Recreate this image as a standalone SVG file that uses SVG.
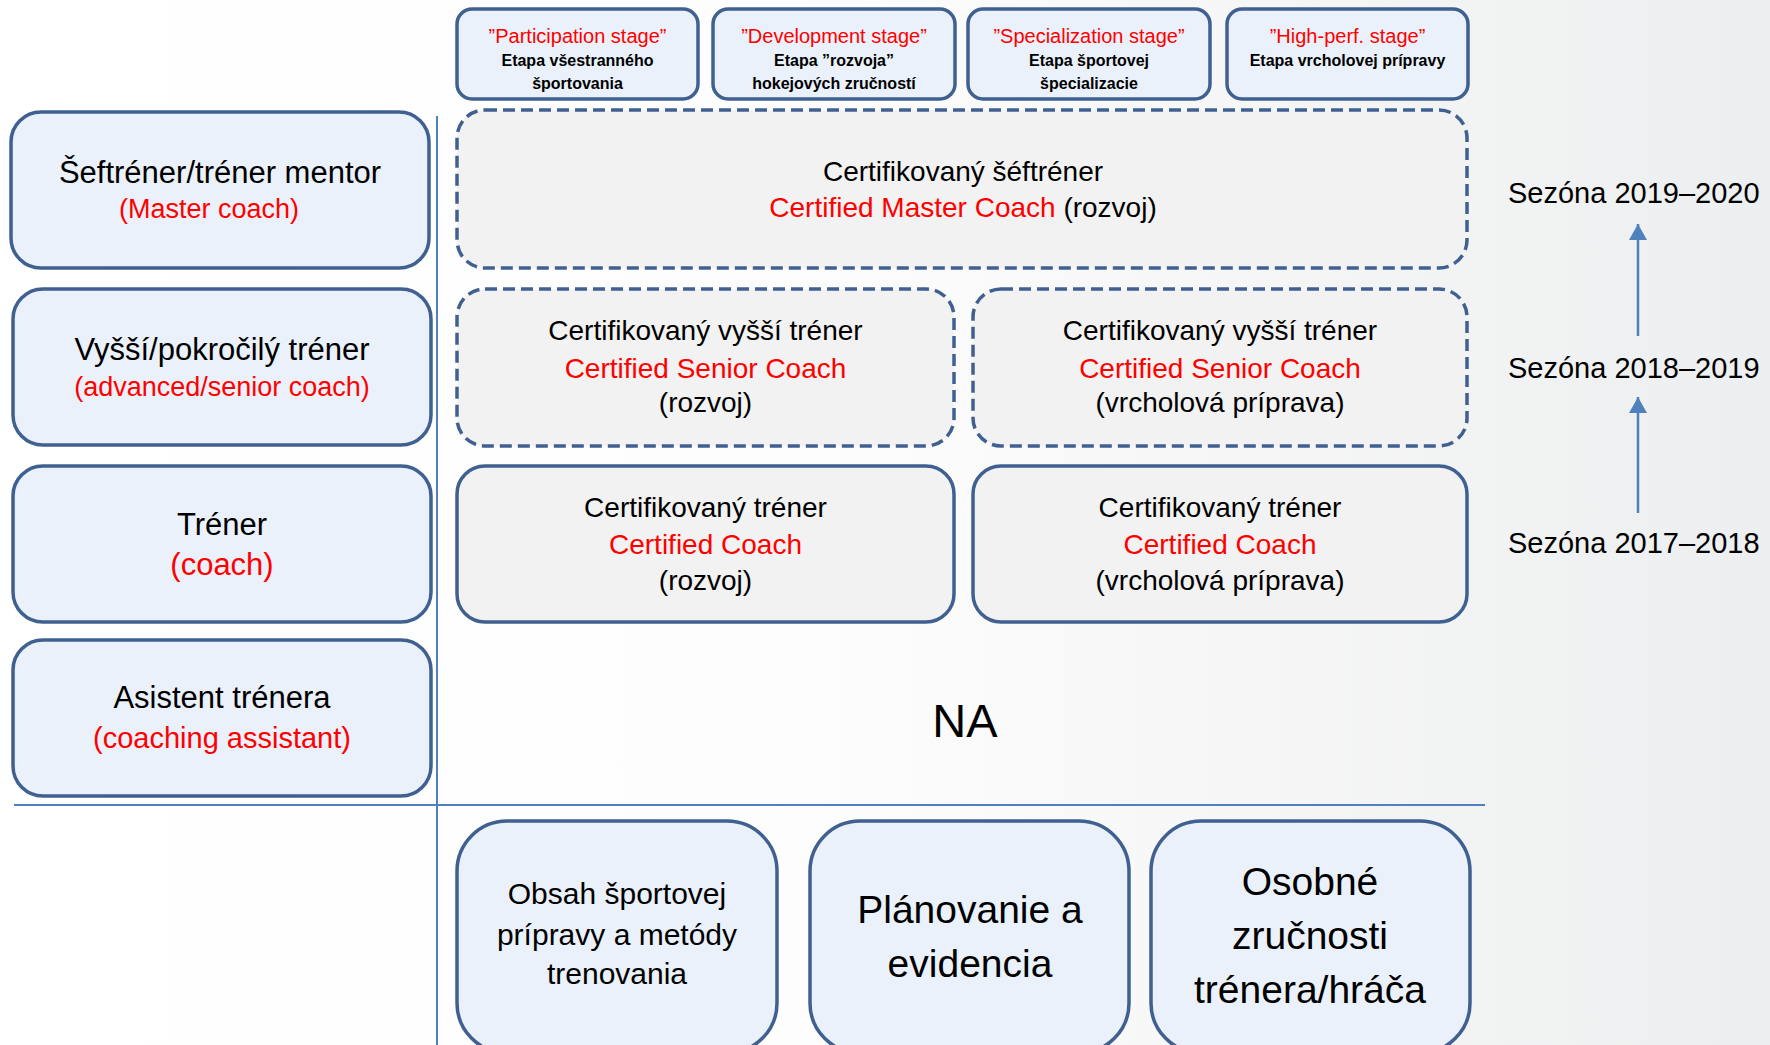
<svg xmlns="http://www.w3.org/2000/svg" width="1770" height="1045" viewBox="0 0 1770 1045">
<defs>
<linearGradient id="bg" x1="0" y1="0" x2="1" y2="0">
<stop offset="0" stop-color="#FFFFFF"/>
<stop offset="0.45" stop-color="#FDFDFD"/>
<stop offset="1" stop-color="#EDEEEF"/>
</linearGradient>
<marker id="ah" markerUnits="userSpaceOnUse" markerWidth="16" markerHeight="18" viewBox="0 0 16 18" refX="16" refY="9" orient="auto">
<path d="M0 0 L16 9 L0 18 Z" fill="#4F81BD"/>
</marker>
<style>
.blue{fill:#EAF1FA;stroke:#3F6090;stroke-width:3.5}
.gray{fill:#F2F2F2;stroke:#3F6090;stroke-width:3.5}
.dash{stroke-dasharray:12 6}
text{font-family:"Liberation Sans",Arial,sans-serif;text-anchor:middle;fill:#000}
.red{fill:#FF0000}
.stR{font-size:20px}
.stB{font-size:16px;font-weight:bold}
.lab{font-size:31px}
.labR{font-size:27px}
.mid{font-size:28px}
.bot{font-size:30px}
.big{font-size:39px}
.sez{font-size:29px;text-anchor:start}
.rule{stroke:#4F81BD;stroke-width:2;fill:none}
</style>
</defs>
<rect width="1770" height="1045" fill="url(#bg)"/>

<g id="connectors">
<line class="rule" x1="437" y1="116" x2="437" y2="1045"/>
<line class="rule" x1="14" y1="805" x2="1485" y2="805"/>
<line x1="1638" y1="336" x2="1638" y2="224" stroke="#4F81BD" stroke-width="2.5" marker-end="url(#ah)"/>
<line x1="1638" y1="513" x2="1638" y2="397" stroke="#4F81BD" stroke-width="2.5" marker-end="url(#ah)"/>
</g>

<g id="stage1">
<rect class="blue" x="457" y="9" width="241" height="90" rx="15"/>
<text class="stR red" x="577.5" y="43">”Participation stage”</text>
<text class="stB" x="577.5" y="66">Etapa všestranného</text>
<text class="stB" x="577.5" y="89">športovania</text>
</g>
<g id="stage2">
<rect class="blue" x="713" y="9" width="242" height="90" rx="15"/>
<text class="stR red" x="834" y="43">”Development stage”</text>
<text class="stB" x="834" y="66">Etapa ”rozvoja”</text>
<text class="stB" x="834" y="89">hokejových zručností</text>
</g>
<g id="stage3">
<rect class="blue" x="968" y="9" width="242" height="90" rx="15"/>
<text class="stR red" x="1089" y="43">”Specialization stage”</text>
<text class="stB" x="1089" y="66">Etapa športovej</text>
<text class="stB" x="1089" y="89">špecializacie</text>
</g>
<g id="stage4">
<rect class="blue" x="1227" y="9" width="241" height="90" rx="15"/>
<text class="stR red" x="1347.5" y="43">”High-perf. stage”</text>
<text class="stB" x="1347.5" y="66">Etapa vrcholovej prípravy</text>
</g>

<g id="level-master">
<rect class="blue" x="11" y="112" width="418" height="156" rx="30"/>
<text class="lab" x="220" y="183">Šeftréner/tréner mentor</text>
<text class="labR red" x="209" y="218">(Master coach)</text>
</g>
<g id="level-senior">
<rect class="blue" x="13" y="289" width="418" height="156" rx="30"/>
<text class="lab" x="222" y="360">Vyšší/pokročilý tréner</text>
<text class="labR red" x="222" y="396">(advanced/senior coach)</text>
</g>
<g id="level-coach">
<rect class="blue" x="13" y="466" width="418" height="156" rx="30"/>
<text class="lab" x="222" y="535">Tréner</text>
<text class="lab red" x="222" y="575">(coach)</text>
</g>
<g id="level-assistant">
<rect class="blue" x="13" y="640" width="418" height="156" rx="30"/>
<text class="lab" x="222" y="708">Asistent trénera</text>
<text class="lab red" x="222" y="748" style="font-size:29px">(coaching assistant)</text>
</g>

<g id="cert-master">
<rect class="gray dash" x="457" y="110" width="1010" height="158" rx="28"/>
<text class="mid" x="963" y="181">Certifikovaný šéftréner</text>
<text class="mid" x="963" y="217"><tspan class="red">Certified Master Coach</tspan> (rozvoj)</text>
</g>
<g id="cert-senior-dev">
<rect class="gray dash" x="457" y="289" width="497" height="157" rx="28"/>
<text class="mid" x="705.5" y="340">Certifikovaný vyšší tréner</text>
<text class="mid red" x="705.5" y="378">Certified Senior Coach</text>
<text class="mid" x="705.5" y="412">(rozvoj)</text>
</g>
<g id="cert-senior-hp">
<rect class="gray dash" x="973" y="289" width="494" height="157" rx="28"/>
<text class="mid" x="1220" y="340">Certifikovaný vyšší tréner</text>
<text class="mid red" x="1220" y="378">Certified Senior Coach</text>
<text class="mid" x="1220" y="412">(vrcholová príprava)</text>
</g>
<g id="cert-coach-dev">
<rect class="gray" x="457" y="466" width="497" height="156" rx="28"/>
<text class="mid" x="705.5" y="517">Certifikovaný tréner</text>
<text class="mid red" x="705.5" y="554">Certified Coach</text>
<text class="mid" x="705.5" y="590">(rozvoj)</text>
</g>
<g id="cert-coach-hp">
<rect class="gray" x="973" y="466" width="494" height="156" rx="28"/>
<text class="mid" x="1220" y="517">Certifikovaný tréner</text>
<text class="mid red" x="1220" y="554">Certified Coach</text>
<text class="mid" x="1220" y="590">(vrcholová príprava)</text>
</g>

<g id="na">
<text x="965" y="737" style="font-size:47px">NA</text>
</g>

<g id="seasons">
<text class="sez" x="1508" y="203">Sezóna 2019–2020</text>
<text class="sez" x="1508" y="378">Sezóna 2018–2019</text>
<text class="sez" x="1508" y="553">Sezóna 2017–2018</text>
</g>

<g id="area-content">
<rect class="blue" x="457" y="821" width="320" height="232" rx="50"/>
<text class="bot" x="617" y="904">Obsah športovej</text>
<text class="bot" x="617" y="945">prípravy a metódy</text>
<text class="bot" x="617" y="984">trenovania</text>
</g>
<g id="area-planning">
<rect class="blue" x="810" y="821" width="319" height="232" rx="50"/>
<text class="big" x="970" y="923">Plánovanie a</text>
<text class="big" x="970" y="977">evidencia</text>
</g>
<g id="area-skills">
<rect class="blue" x="1151" y="821" width="319" height="232" rx="50"/>
<text class="big" x="1310" y="895">Osobné</text>
<text class="big" x="1310" y="949">zručnosti</text>
<text class="big" x="1310" y="1003">trénera/hráča</text>
</g>
</svg>
